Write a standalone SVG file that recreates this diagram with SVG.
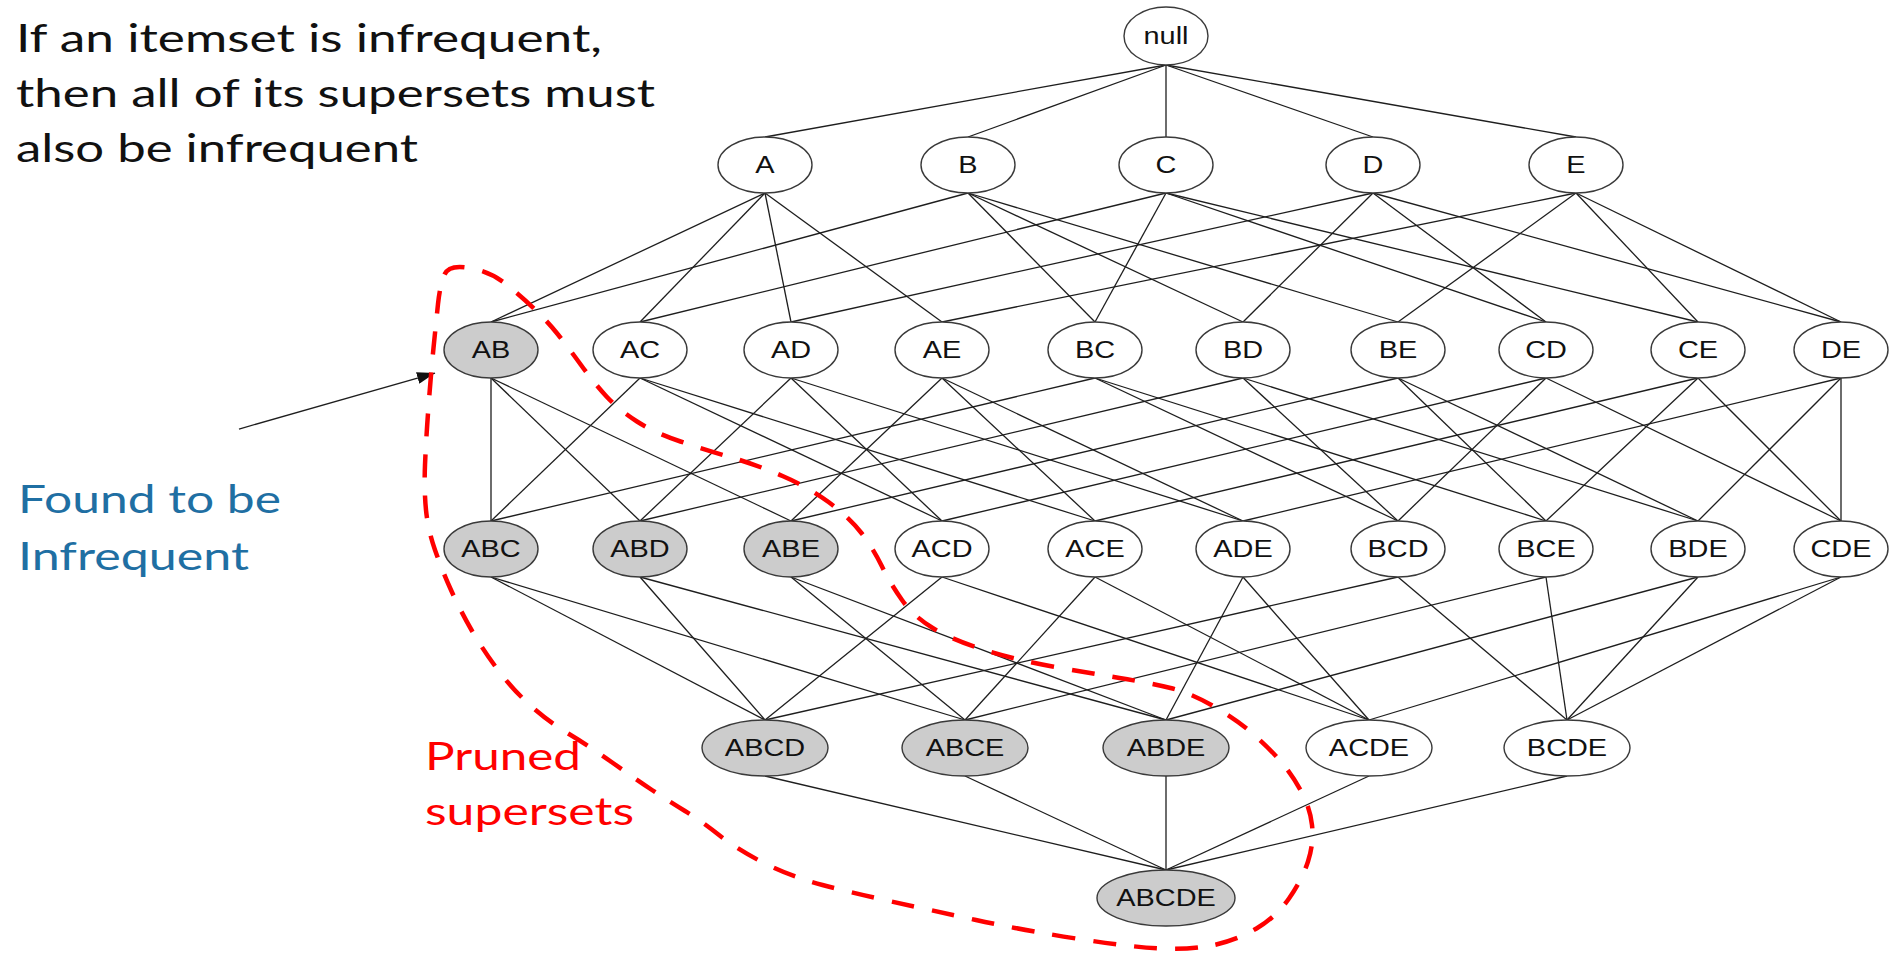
<svg xmlns="http://www.w3.org/2000/svg" width="1903" height="955" viewBox="0 0 1903 955">
<style>
.bg{fill:#ffffff}
.node ellipse{fill:#ffffff;stroke:#3a3a3a;stroke-width:1.4}
.node.pruned ellipse{fill:#cccccc}
.node text{font-family:"Liberation Sans",Arial,sans-serif;font-size:23.5px;fill:#111111;text-anchor:middle}
.edges line{stroke:#1e1e1e;stroke-width:1.3}
.caption{font-family:Lato,"Open Sans",sans-serif;font-size:38px}
.black{fill:#111111}
.blue{fill:#1f6fa3}
.red{fill:#ff0000}
.hull{fill:none;stroke:#ff0000;stroke-width:4.5;stroke-dasharray:23 18}
.pointer{stroke:#111111;stroke-width:2.2}
</style>
<defs>
<marker id="ah" viewBox="0 0 10 10" refX="10" refY="5" markerWidth="18" markerHeight="12" markerUnits="userSpaceOnUse" orient="auto" preserveAspectRatio="none">
<path d="M0,0 L10,5 L0,10 Z" fill="#111111"/>
</marker>
</defs>
<rect class="bg" x="0" y="0" width="1903" height="955"/>

<g id="texts">
<text class="caption black" x="16" y="52" textLength="586" lengthAdjust="spacingAndGlyphs">If an itemset is infrequent,</text>
<text class="caption black" x="16" y="107" textLength="639" lengthAdjust="spacingAndGlyphs">then all of its supersets must</text>
<text class="caption black" x="16" y="162" textLength="402" lengthAdjust="spacingAndGlyphs">also be infrequent</text>
<text class="caption blue" x="18" y="513" font-size="39" textLength="263" lengthAdjust="spacingAndGlyphs">Found to be</text>
<text class="caption blue" x="18" y="570" font-size="39" textLength="231" lengthAdjust="spacingAndGlyphs">Infrequent</text>
<text class="caption red" x="425" y="770" font-size="39" textLength="156" lengthAdjust="spacingAndGlyphs">Pruned</text>
<text class="caption red" x="425" y="825" font-size="39" textLength="209" lengthAdjust="spacingAndGlyphs">supersets</text>
</g>

<g id="connectors" class="edges">
<line x1="1166" y1="65" x2="765" y2="137"/>
<line x1="1166" y1="65" x2="968" y2="137"/>
<line x1="1166" y1="65" x2="1166" y2="137"/>
<line x1="1166" y1="65" x2="1373" y2="137"/>
<line x1="1166" y1="65" x2="1576" y2="137"/>

<line x1="765" y1="193" x2="491" y2="322"/>
<line x1="765" y1="193" x2="640" y2="322"/>
<line x1="765" y1="193" x2="791" y2="322"/>
<line x1="765" y1="193" x2="942" y2="322"/>
<line x1="968" y1="193" x2="491" y2="322"/>
<line x1="968" y1="193" x2="1095" y2="322"/>
<line x1="968" y1="193" x2="1243" y2="322"/>
<line x1="968" y1="193" x2="1398" y2="322"/>
<line x1="1166" y1="193" x2="640" y2="322"/>
<line x1="1166" y1="193" x2="1095" y2="322"/>
<line x1="1166" y1="193" x2="1546" y2="322"/>
<line x1="1166" y1="193" x2="1698" y2="322"/>
<line x1="1373" y1="193" x2="791" y2="322"/>
<line x1="1373" y1="193" x2="1243" y2="322"/>
<line x1="1373" y1="193" x2="1546" y2="322"/>
<line x1="1373" y1="193" x2="1841" y2="322"/>
<line x1="1576" y1="193" x2="942" y2="322"/>
<line x1="1576" y1="193" x2="1398" y2="322"/>
<line x1="1576" y1="193" x2="1698" y2="322"/>
<line x1="1576" y1="193" x2="1841" y2="322"/>

<line x1="491" y1="378" x2="491" y2="521"/>
<line x1="491" y1="378" x2="640" y2="521"/>
<line x1="491" y1="378" x2="791" y2="521"/>
<line x1="640" y1="378" x2="491" y2="521"/>
<line x1="640" y1="378" x2="942" y2="521"/>
<line x1="640" y1="378" x2="1095" y2="521"/>
<line x1="791" y1="378" x2="640" y2="521"/>
<line x1="791" y1="378" x2="942" y2="521"/>
<line x1="791" y1="378" x2="1243" y2="521"/>
<line x1="942" y1="378" x2="791" y2="521"/>
<line x1="942" y1="378" x2="1095" y2="521"/>
<line x1="942" y1="378" x2="1243" y2="521"/>
<line x1="1095" y1="378" x2="491" y2="521"/>
<line x1="1095" y1="378" x2="1398" y2="521"/>
<line x1="1095" y1="378" x2="1546" y2="521"/>
<line x1="1243" y1="378" x2="640" y2="521"/>
<line x1="1243" y1="378" x2="1398" y2="521"/>
<line x1="1243" y1="378" x2="1698" y2="521"/>
<line x1="1398" y1="378" x2="791" y2="521"/>
<line x1="1398" y1="378" x2="1546" y2="521"/>
<line x1="1398" y1="378" x2="1698" y2="521"/>
<line x1="1546" y1="378" x2="942" y2="521"/>
<line x1="1546" y1="378" x2="1398" y2="521"/>
<line x1="1546" y1="378" x2="1841" y2="521"/>
<line x1="1698" y1="378" x2="1095" y2="521"/>
<line x1="1698" y1="378" x2="1546" y2="521"/>
<line x1="1698" y1="378" x2="1841" y2="521"/>
<line x1="1841" y1="378" x2="1243" y2="521"/>
<line x1="1841" y1="378" x2="1698" y2="521"/>
<line x1="1841" y1="378" x2="1841" y2="521"/>

<line x1="491" y1="577" x2="765" y2="720"/>
<line x1="491" y1="577" x2="965" y2="720"/>
<line x1="640" y1="577" x2="765" y2="720"/>
<line x1="640" y1="577" x2="1166" y2="720"/>
<line x1="791" y1="577" x2="965" y2="720"/>
<line x1="791" y1="577" x2="1166" y2="720"/>
<line x1="942" y1="577" x2="765" y2="720"/>
<line x1="942" y1="577" x2="1369" y2="720"/>
<line x1="1095" y1="577" x2="965" y2="720"/>
<line x1="1095" y1="577" x2="1369" y2="720"/>
<line x1="1243" y1="577" x2="1166" y2="720"/>
<line x1="1243" y1="577" x2="1369" y2="720"/>
<line x1="1398" y1="577" x2="765" y2="720"/>
<line x1="1398" y1="577" x2="1567" y2="720"/>
<line x1="1546" y1="577" x2="965" y2="720"/>
<line x1="1546" y1="577" x2="1567" y2="720"/>
<line x1="1698" y1="577" x2="1166" y2="720"/>
<line x1="1698" y1="577" x2="1567" y2="720"/>
<line x1="1841" y1="577" x2="1369" y2="720"/>
<line x1="1841" y1="577" x2="1567" y2="720"/>

<line x1="765" y1="776" x2="1166" y2="870"/>
<line x1="965" y1="776" x2="1166" y2="870"/>
<line x1="1166" y1="776" x2="1166" y2="870"/>
<line x1="1369" y1="776" x2="1166" y2="870"/>
<line x1="1567" y1="776" x2="1166" y2="870"/>

<line class="pointer" x1="239" y1="429" x2="435" y2="373" marker-end="url(#ah)"/>
</g>

<g id="n-null" class="node" transform="translate(1166,36)"><ellipse rx="42" ry="29"/><text y="8" transform="scale(1.23,1)">null</text></g>

<g id="n-A" class="node" transform="translate(765,165)"><ellipse rx="47" ry="28"/><text y="8" transform="scale(1.23,1)">A</text></g>
<g id="n-B" class="node" transform="translate(968,165)"><ellipse rx="47" ry="28"/><text y="8" transform="scale(1.23,1)">B</text></g>
<g id="n-C" class="node" transform="translate(1166,165)"><ellipse rx="47" ry="28"/><text y="8" transform="scale(1.23,1)">C</text></g>
<g id="n-D" class="node" transform="translate(1373,165)"><ellipse rx="47" ry="28"/><text y="8" transform="scale(1.23,1)">D</text></g>
<g id="n-E" class="node" transform="translate(1576,165)"><ellipse rx="47" ry="28"/><text y="8" transform="scale(1.23,1)">E</text></g>

<g id="n-AB" class="node pruned" transform="translate(491,350)"><ellipse rx="47" ry="28"/><text y="8" transform="scale(1.23,1)">AB</text></g>
<g id="n-AC" class="node" transform="translate(640,350)"><ellipse rx="47" ry="28"/><text y="8" transform="scale(1.23,1)">AC</text></g>
<g id="n-AD" class="node" transform="translate(791,350)"><ellipse rx="47" ry="28"/><text y="8" transform="scale(1.23,1)">AD</text></g>
<g id="n-AE" class="node" transform="translate(942,350)"><ellipse rx="47" ry="28"/><text y="8" transform="scale(1.23,1)">AE</text></g>
<g id="n-BC" class="node" transform="translate(1095,350)"><ellipse rx="47" ry="28"/><text y="8" transform="scale(1.23,1)">BC</text></g>
<g id="n-BD" class="node" transform="translate(1243,350)"><ellipse rx="47" ry="28"/><text y="8" transform="scale(1.23,1)">BD</text></g>
<g id="n-BE" class="node" transform="translate(1398,350)"><ellipse rx="47" ry="28"/><text y="8" transform="scale(1.23,1)">BE</text></g>
<g id="n-CD" class="node" transform="translate(1546,350)"><ellipse rx="47" ry="28"/><text y="8" transform="scale(1.23,1)">CD</text></g>
<g id="n-CE" class="node" transform="translate(1698,350)"><ellipse rx="47" ry="28"/><text y="8" transform="scale(1.23,1)">CE</text></g>
<g id="n-DE" class="node" transform="translate(1841,350)"><ellipse rx="47" ry="28"/><text y="8" transform="scale(1.23,1)">DE</text></g>

<g id="n-ABC" class="node pruned" transform="translate(491,549)"><ellipse rx="47" ry="28"/><text y="8" transform="scale(1.23,1)">ABC</text></g>
<g id="n-ABD" class="node pruned" transform="translate(640,549)"><ellipse rx="47" ry="28"/><text y="8" transform="scale(1.23,1)">ABD</text></g>
<g id="n-ABE" class="node pruned" transform="translate(791,549)"><ellipse rx="47" ry="28"/><text y="8" transform="scale(1.23,1)">ABE</text></g>
<g id="n-ACD" class="node" transform="translate(942,549)"><ellipse rx="47" ry="28"/><text y="8" transform="scale(1.23,1)">ACD</text></g>
<g id="n-ACE" class="node" transform="translate(1095,549)"><ellipse rx="47" ry="28"/><text y="8" transform="scale(1.23,1)">ACE</text></g>
<g id="n-ADE" class="node" transform="translate(1243,549)"><ellipse rx="47" ry="28"/><text y="8" transform="scale(1.23,1)">ADE</text></g>
<g id="n-BCD" class="node" transform="translate(1398,549)"><ellipse rx="47" ry="28"/><text y="8" transform="scale(1.23,1)">BCD</text></g>
<g id="n-BCE" class="node" transform="translate(1546,549)"><ellipse rx="47" ry="28"/><text y="8" transform="scale(1.23,1)">BCE</text></g>
<g id="n-BDE" class="node" transform="translate(1698,549)"><ellipse rx="47" ry="28"/><text y="8" transform="scale(1.23,1)">BDE</text></g>
<g id="n-CDE" class="node" transform="translate(1841,549)"><ellipse rx="47" ry="28"/><text y="8" transform="scale(1.23,1)">CDE</text></g>

<g id="n-ABCD" class="node pruned" transform="translate(765,748)"><ellipse rx="63" ry="28"/><text y="8" transform="scale(1.23,1)">ABCD</text></g>
<g id="n-ABCE" class="node pruned" transform="translate(965,748)"><ellipse rx="63" ry="28"/><text y="8" transform="scale(1.23,1)">ABCE</text></g>
<g id="n-ABDE" class="node pruned" transform="translate(1166,748)"><ellipse rx="63" ry="28"/><text y="8" transform="scale(1.23,1)">ABDE</text></g>
<g id="n-ACDE" class="node" transform="translate(1369,748)"><ellipse rx="63" ry="28"/><text y="8" transform="scale(1.23,1)">ACDE</text></g>
<g id="n-BCDE" class="node" transform="translate(1567,748)"><ellipse rx="63" ry="28"/><text y="8" transform="scale(1.23,1)">BCDE</text></g>

<g id="n-ABCDE" class="node pruned" transform="translate(1166,898)"><ellipse rx="69" ry="28"/><text y="8" transform="scale(1.23,1)">ABCDE</text></g>

<g id="pruned-region">
<path class="hull" d="M 444.5,274.5 Q 449,264 470,268 Q 491,272 506.5,284.5 Q 522,297 535,309.5 Q 548,322 558,334.5 Q 568,347 581,365 Q 594,383 606.5,396.5 Q 619,410 637,421.5 Q 655,433 680.5,441.5 Q 706,450 731.5,457.5 Q 757,465 782.5,476 Q 808,487 828.5,502 Q 849,517 861,532.5 Q 873,548 881.5,565.5 Q 890,583 902,600 Q 914,617 933.5,628.5 Q 953,640 984.5,650 Q 1016,660 1052.5,666.5 Q 1089,673 1119.5,678 Q 1150,683 1170.5,688 Q 1191,693 1214,706.5 Q 1237,720 1252.5,733.5 Q 1268,747 1279.5,760 Q 1291,773 1300.5,790 Q 1310,807 1312,825 Q 1314,843 1308,861.5 Q 1302,880 1289,898.5 Q 1276,917 1256.5,928.5 Q 1237,940 1214,945 Q 1191,950 1160.5,948.5 Q 1130,947 1076,938.5 Q 1022,930 976,920 Q 930,910 891.5,901.5 Q 853,893 822.5,885 Q 792,877 765,863.5 Q 738,850 719,835 Q 700,820 685,811 Q 670,802 652,790 Q 634,778 611.5,762 Q 589,746 569,734 Q 549,722 531,706 Q 513,690 498,670 Q 483,650 471.5,630 Q 460,610 451,590 Q 442,570 435,550 Q 428,530 426,510 Q 424,490 425,465 Q 426,440 428.5,406.5 Q 431,373 433.5,348 Q 436,323 438,304 Q 440,285 444.5,274.5 Z"/>
</g>
</svg>
